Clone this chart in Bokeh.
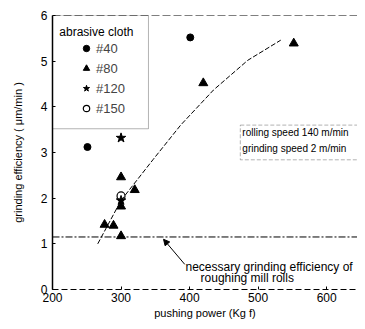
from bokeh.plotting import figure
from bokeh.models import (Range1d, BoxAnnotation, Label, Span, Arrow, NormalHead,
                          Legend, LegendItem, FixedTicker)
from bokeh.embed import file_html
from bokeh.resources import INLINE

# ---- data ----
x40 = [251, 401]
y40 = [3.12, 5.52]
x80 = [276, 289, 300, 300, 300, 320, 420, 552]
y80 = [1.42, 1.40, 1.17, 1.82, 2.46, 2.18, 4.52, 5.39]
x120 = [300, 300]
y120 = [3.32, 1.95]
x150 = [300]
y150 = [2.05]
curve_x = [266, 300, 347, 387, 435, 485, 533]
curve_y = [1.0, 1.95, 2.85, 3.6, 4.37, 5.02, 5.46]
necessary_level = 1.15
x_ticks = [200, 300, 400, 500, 600]
y_ticks = [0, 1, 2, 3, 4, 5, 6]
legend_labels = ["#40", "#80", "#120", "#150"]

FONT = "Liberation Sans"

p = figure(width=357, height=321, output_backend="svg", toolbar_location=None,
           x_range=Range1d(200, 645), y_range=Range1d(0, 6),
           min_border_left=52, min_border_right=0, min_border_top=15, min_border_bottom=31)
p.outline_line_color = None
p.grid.visible = False
p.background_fill_color = "white"

p.xaxis.ticker = FixedTicker(ticks=x_ticks)
p.yaxis.ticker = FixedTicker(ticks=y_ticks)
for ax in (p.xaxis, p.yaxis):
    ax.major_label_text_font = FONT
    ax.major_label_text_color = "black"
    ax.axis_label_text_font = FONT
    ax.axis_label_text_font_style = "normal"
    ax.axis_label_text_color = "black"
    ax.minor_tick_line_color = None
    ax.major_tick_out = 0
    ax.major_tick_in = 3
    ax.axis_line_color = "black"
p.xaxis.major_label_text_font_size = "12px"
p.yaxis.major_label_text_font_size = "12px"
p.xaxis.axis_label = "pushing power (Kg f)"
p.yaxis.axis_label = "grinding efficiency ( μm/min )"
p.xaxis.axis_label_text_font_size = "11px"
p.yaxis.axis_label_text_font_size = "11px"
p.xaxis.axis_label_standoff = 2
p.xaxis.major_label_standoff = 3
p.yaxis.axis_label_standoff = 14
p.xaxis.axis_line_dash = "6 3"
p.yaxis.axis_line_width = 1.5

# top border dashed
p.add_layout(Span(location=6, dimension="width", line_color="black", line_dash="8 3", line_width=1))

# necessary level line
p.add_layout(Span(location=necessary_level, dimension="width", line_color="black",
                  line_dash="7 2 2 2", line_width=1))

# fitted curve
p.line(curve_x, curve_y, line_color="black", line_width=1, line_dash="5 2")

# points
r40 = p.scatter(x40, y40, marker="circle", size=7, color="black")
r80 = p.scatter(x80, y80, marker="triangle", size=9, color="black")
r120 = p.scatter(x120, y120, marker="star", size=10, color="black")
r150 = p.scatter(x150, y150, marker="circle", size=8, fill_color=None, line_color="black", line_width=1.2)

# legend frame + title
p.add_layout(BoxAnnotation(left=200, right=340, top=6, bottom=3.52, fill_alpha=0,
                           line_color="black", line_width=1))
p.add_layout(Label(x=210, y=5.63, text="abrasive cloth", text_font=FONT, text_font_size="12px",
                   text_baseline="middle", text_color="black"))
legend = Legend(items=[LegendItem(label=legend_labels[0], renderers=[r40]),
                       LegendItem(label=legend_labels[1], renderers=[r80]),
                       LegendItem(label=legend_labels[2], renderers=[r120]),
                       LegendItem(label=legend_labels[3], renderers=[r150])],
                location=(26, 171), padding=0, spacing=0, margin=0,
                glyph_width=16, glyph_height=20, label_height=20, label_standoff=2,
                border_line_color=None, background_fill_alpha=0,
                label_text_font=FONT, label_text_font_size="13px")
p.add_layout(legend)

# speed box
p.add_layout(BoxAnnotation(left=474, right=700, top=3.6, bottom=2.84, fill_alpha=0,
                           line_color="black", line_width=1, line_dash="4 2"))
p.add_layout(Label(x=477, y=3.43, text="rolling speed 140 m/min", text_font=FONT,
                   text_font_size="10px", text_baseline="middle", text_color="black"))
p.add_layout(Label(x=477, y=3.08, text="grinding speed   2 m/min", text_font=FONT,
                   text_font_size="10px", text_baseline="middle", text_color="black"))

# annotation arrow + text
p.add_layout(Arrow(end=NormalHead(size=6, fill_color="black", line_color="black"),
                   x_start=393, y_start=0.55, x_end=362, y_end=1.1, line_color="black", line_width=1))
p.add_layout(Label(x=394, y=0.50, text="necessary grinding efficiency of", text_font=FONT,
                   text_font_size="12px", text_baseline="middle", text_color="black"))
p.add_layout(Label(x=416, y=0.26, text="roughing mill rolls", text_font=FONT,
                   text_font_size="12px", text_baseline="middle", text_color="black"))

open("out.html", "w").write(file_html(p, INLINE))
